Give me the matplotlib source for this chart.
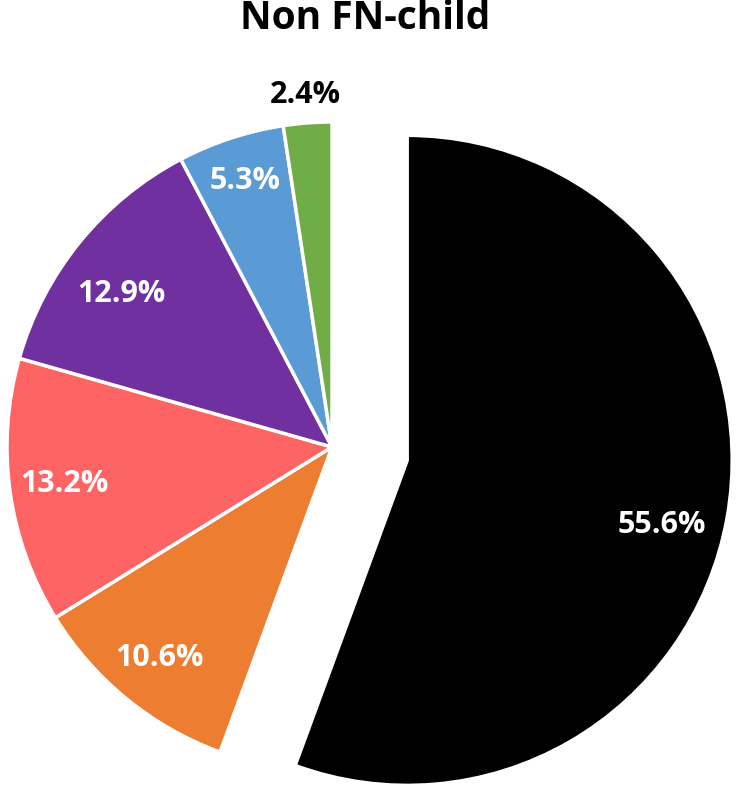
import matplotlib
matplotlib.use("Agg")
import matplotlib.pyplot as plt
import numpy as np

title = "Non FN-child"
labels = ["55.6%", "10.6%", "13.2%", "12.9%", "5.3%", "2.4%"]
values = [55.6, 10.6, 13.2, 12.9, 5.3, 2.4]
colors = ["#000000", "#ED7D31", "#FF6464", "#7030A0", "#5B9BD5", "#70AD47"]
explode = [0.235, 0, 0, 0, 0, 0]

plt.rcParams['font.family'] = ['Open Sans', 'DejaVu Sans']

fig = plt.figure(figsize=(7.37, 7.9), dpi=100)
ax = fig.add_axes([0, 0, 1, 1])
wedges, _ = ax.pie(values, colors=colors, explode=explode, startangle=90,
                   counterclock=False,
                   wedgeprops=dict(edgecolor="white", linewidth=2.5))

dists = [0.81, 0.84, 0.83, 0.80, 0.86, 1.085]
angle_adj = [-4.2, 0, 0, 3.0, 0, 0]
for w, lab, d, da in zip(wedges, labels, dists, angle_adj):
    mid = np.deg2rad((w.theta1 + w.theta2) / 2 + da)
    cx, cy = w.center
    x = cx + d * np.cos(mid)
    y = cy + d * np.sin(mid)
    col = "black" if lab == "2.4%" else "white"
    ax.text(x, y, lab, ha="center", va="center", color=col,
            fontsize=22, fontweight="bold")

ax.set_xlim(-332/325, (737-332)/325)
ax.set_ylim(-(790-447)/325, 447/325)
ax.set_aspect("equal")
ax.axis("off")
fig.text(0.495, 0.976, title, ha="center", va="center", fontsize=28, fontweight="bold")
fig.savefig("out.png", dpi=100)
